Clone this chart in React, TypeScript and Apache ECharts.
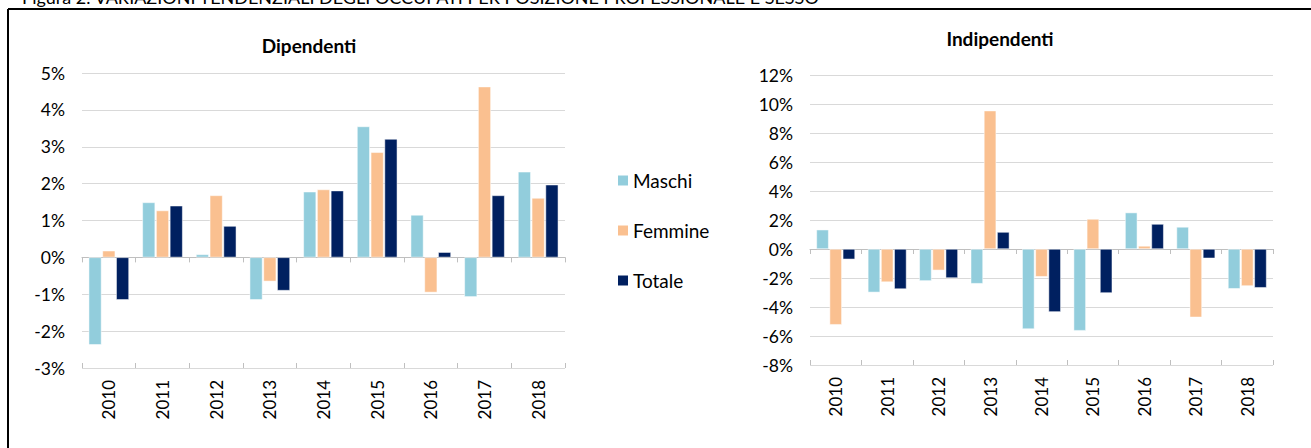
import React, { useEffect, useRef } from "react";
import * as echarts from "echarts";

const years = ["2010", "2011", "2012", "2013", "2014", "2015", "2016", "2017", "2018"];
const seriesNames = ["Maschi", "Femmine", "Totale"];
const colors = ["#92CDDC", "#FAC090", "#002060"];

// Dipendenti (%)
const depMaschi = [-2.37, 1.49, 0.08, -1.15, 1.78, 3.55, 1.15, -1.07, 2.32];
const depFemmine = [0.18, 1.27, 1.68, -0.65, 1.84, 2.85, -0.95, 4.63, 1.61];
const depTotale = [-1.15, 1.4, 0.85, -0.9, 1.81, 3.21, 0.14, 1.68, 1.97];

// Indipendenti (%)
const indMaschi = [1.33, -2.99, -2.2, -2.39, -5.52, -5.63, 2.51, 1.52, -2.74];
const indFemmine = [-5.22, -2.28, -1.47, 9.54, -1.91, 2.07, 0.21, -4.71, -2.55];
const indTotale = [-0.71, -2.76, -2.0, 1.17, -4.34, -3.03, 1.72, -0.64, -2.67];

const leftTicks = { min: -3, max: 5, interval: 1 };
const rightTicks = { min: -8, max: 12, interval: 2 };

const FONT = "Lato, 'Liberation Sans', sans-serif";

export default function App() {
  const ref = useRef<HTMLDivElement>(null);
  useEffect(() => {
    document.body.style.margin = "0";
    if (!ref.current) return;
    const chart = echarts.init(ref.current, undefined, { renderer: "svg" });

    const mkX = (gridIndex: number) => [
      {
        type: "category",
        gridIndex,
        data: years,
        axisLine: { show: false, onZero: false },
        axisTick: { show: false },
        axisLabel: { rotate: 90, margin: 12, fontSize: 17, color: "#000", fontFamily: FONT },
      },
      {
        type: "category",
        gridIndex,
        data: years,
        position: "bottom",
        axisLine: { show: true, onZero: true, lineStyle: { color: "#BFBFBF", width: 1 } },
        axisTick: { show: true, length: 5, inside: false, lineStyle: { color: "#BFBFBF" } },
        axisLabel: { show: false },
      },
      {
        type: "category",
        gridIndex,
        data: years,
        position: "bottom",
        axisLine: { show: false, onZero: true },
        axisTick: { show: true, length: 5, inside: true, lineStyle: { color: "#BFBFBF" } },
        axisLabel: { show: false },
      },
    ];

    const mkY = (gridIndex: number, t: { min: number; max: number; interval: number }) => ({
      type: "value",
      gridIndex,
      min: t.min,
      max: t.max,
      interval: t.interval,
      axisLine: { show: false },
      axisTick: { show: false },
      splitLine: { show: true, lineStyle: { color: "#D9D9D9", width: 1 } },
      axisLabel: {
        formatter: (v: number) => `${v}%`,
        fontSize: 17.5,
        color: "#000",
        fontFamily: FONT,
        margin: 17,
      },
    });

    const mkSeries = (xi: number, yi: number, data: number[][]) =>
      data.map((d, i) => ({
        name: seriesNames[i],
        type: "bar",
        xAxisIndex: xi,
        yAxisIndex: yi,
        data: d,
        itemStyle: { color: colors[i], borderColor: "#ffffff", borderWidth: 0.5 },
        barGap: "8%",
        barCategoryGap: "25%",
      }));

    chart.setOption({
      animation: false,
      textStyle: { fontFamily: FONT },
      grid: [
        { left: 82, right: 746, top: 73, bottom: 80, containLabel: false },
        { left: 810, right: 38, top: 75, bottom: 83, containLabel: false },
      ],
      xAxis: [...mkX(0), ...mkX(1)],
      yAxis: [mkY(0, leftTicks), mkY(1, rightTicks)],
      legend: {
        orient: "vertical",
        left: 611,
        top: 166,
        itemWidth: 12,
        itemHeight: 12,
        itemGap: 31,
        icon: "rect",
        data: seriesNames,
        textStyle: { fontSize: 19, color: "#000", fontFamily: FONT, padding: [0, 0, 0, -1] },
      },
      series: [
        ...mkSeries(0, 0, [depMaschi, depFemmine, depTotale]),
        ...mkSeries(3, 1, [indMaschi, indFemmine, indTotale]),
      ],
      graphic: [
        {
          type: "text",
          left: 22,
          top: -12,
          style: {
            text: "Figura 2. VARIAZIONI TENDENZIALI DEGLI OCCUPATI PER POSIZIONE PROFESSIONALE E SESSO",
            fontSize: 18,
            fill: "#000",
            fontFamily: FONT,
          },
        },
        {
          type: "line",
          shape: { x1: 8, y1: 9, x2: 1311, y2: 9 },
          style: { stroke: "#000", lineWidth: 2 },
        },
        {
          type: "line",
          shape: { x1: 8, y1: 9, x2: 8, y2: 448 },
          style: { stroke: "#000", lineWidth: 2 },
        },
        {
          type: "text",
          x: 309,
          y: 45,
          style: {
            text: "Dipendenti",
            fontSize: 19,
            fontWeight: "bold",
            fill: "#000",
            fontFamily: FONT,
            textAlign: "center",
            textVerticalAlign: "middle",
          },
        },
        {
          type: "text",
          x: 1000,
          y: 38,
          style: {
            text: "Indipendenti",
            fontSize: 19,
            fontWeight: "bold",
            fill: "#000",
            fontFamily: FONT,
            textAlign: "center",
            textVerticalAlign: "middle",
          },
        },
      ],
    });
    return () => chart.dispose();
  }, []);
  return <div ref={ref} style={{ width: 1311, height: 448 }} />;
}
